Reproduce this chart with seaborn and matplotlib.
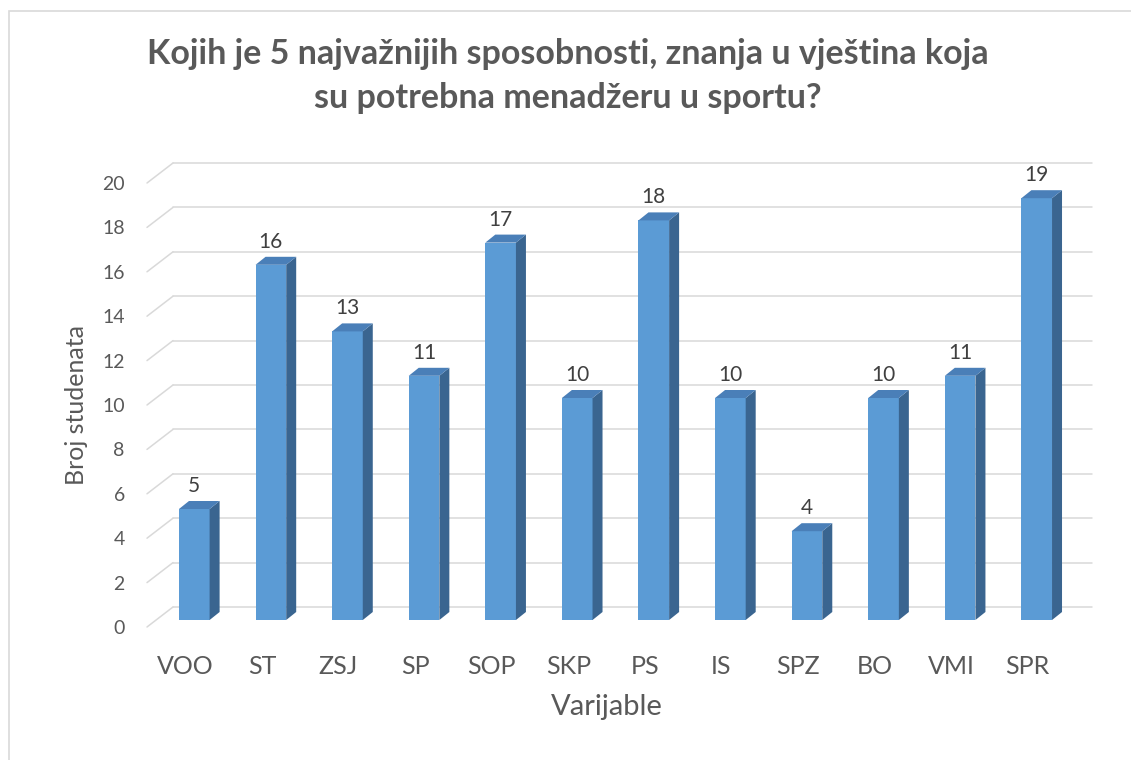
import matplotlib
matplotlib.use("Agg")
import matplotlib.pyplot as plt
from matplotlib.patches import Polygon, Rectangle
import seaborn as sns
import pandas as pd

categories = ["VOO", "ST", "ZSJ", "SP", "SOP", "SKP", "PS", "IS", "SPZ", "BO", "VMI", "SPR"]
values = [5, 16, 13, 11, 17, 10, 18, 10, 4, 10, 11, 19]
y_ticks = [0, 2, 4, 6, 8, 10, 12, 14, 16, 18, 20]
title = "Kojih je 5 najvažnijih sposobnosti, znanja u vještina koja\nsu potrebna menadžeru u sportu?"
x_title = "Varijable"
y_title = "Broj studenata"

sns.set_style("white")
plt.rcParams['font.family'] = ['Lato', 'DejaVu Sans']

W, H = 1131, 760
TXT = '#595959'
GRID = '#D9D9D9'
FRONT = '#5B9BD5'
SIDE = '#3A6590'
TOP = '#4A7FB8'

fig = plt.figure(figsize=(W / 100, H / 100), dpi=100)
ax_l, ax_r, ax_b, ax_t = 147, 1066, 627, 183
ax = fig.add_axes([ax_l / W, (H - ax_b) / H, (ax_r - ax_l) / W, (ax_b - ax_t) / H])

df = pd.DataFrame({"cat": categories, "val": values})
sns.barplot(data=df, x="cat", y="val", ax=ax, width=0.4, color=FRONT,
            saturation=1, linewidth=0, zorder=3)

ax.set_xlim(-0.5, len(categories) - 0.5)
ax.set_ylim(y_ticks[0], y_ticks[-1])

# data units per pixel
ux = (len(categories)) / (ax_r - ax_l)
uy = (y_ticks[-1] - y_ticks[0]) / (ax_b - ax_t)

# back wall gridlines and left wall diagonals
bwx, bwy = 26 * ux, 20 * uy
for v in y_ticks:
    ax.plot([-0.5 + bwx, len(categories) - 0.5 + bwx], [v + bwy, v + bwy],
            color=GRID, lw=1.1, clip_on=False, zorder=0.5)
    ax.plot([-0.5, -0.5 + bwx], [v, v + bwy],
            color=GRID, lw=1.1, clip_on=False, zorder=0.5)

# bars: shift front faces into depth, add sides and tops
bx, by = 9 * ux, 7 * uy
dx, dy = 10 * ux, 8 * uy
for p, val in zip(ax.patches, values):
    x0 = p.get_x() + bx
    w = p.get_width()
    h = p.get_height()
    p.set_x(x0)
    p.set_y(by)
    side = Polygon([(x0 + w, by), (x0 + w, by + h), (x0 + w + dx, by + h + dy), (x0 + w + dx, by + dy)],
                   closed=True, facecolor=SIDE, edgecolor='none', zorder=3, clip_on=False)
    top = Polygon([(x0, by + h), (x0 + w, by + h), (x0 + w + dx, by + h + dy), (x0 + dx, by + h + dy)],
                  closed=True, facecolor=TOP, edgecolor='none', zorder=3, clip_on=False)
    ax.add_patch(side)
    ax.add_patch(top)
    ax.text(x0 + w / 2, by + h + 17 * uy, f"{val}", ha='center', va='baseline',
            fontsize=15, color='#404040', clip_on=False, zorder=4)

for s in ax.spines.values():
    s.set_visible(False)
ax.set_yticks(y_ticks)
ax.tick_params(axis='y', length=0, pad=16, labelsize=14, labelcolor=TXT)
ax.tick_params(axis='x', length=0, pad=20, labelsize=18, labelcolor=TXT)
ax.set_xlabel(x_title, fontsize=21, color=TXT, labelpad=12)
ax.set_ylabel(y_title, fontsize=18, color=TXT, labelpad=10)
ax.grid(False)

fig.text(568 / W, 1 - 108 / H, title, ha='center', va='baseline', fontsize=24.5,
         fontweight='bold', color=TXT, linespacing=1.45, multialignment='center')

fig.add_artist(Rectangle((9 / W, -0.05), 1.1, 1.05 - 11 / H, transform=fig.transFigure,
                         fill=False, edgecolor=GRID, lw=1.2))

fig.savefig("out.png", dpi=100)
